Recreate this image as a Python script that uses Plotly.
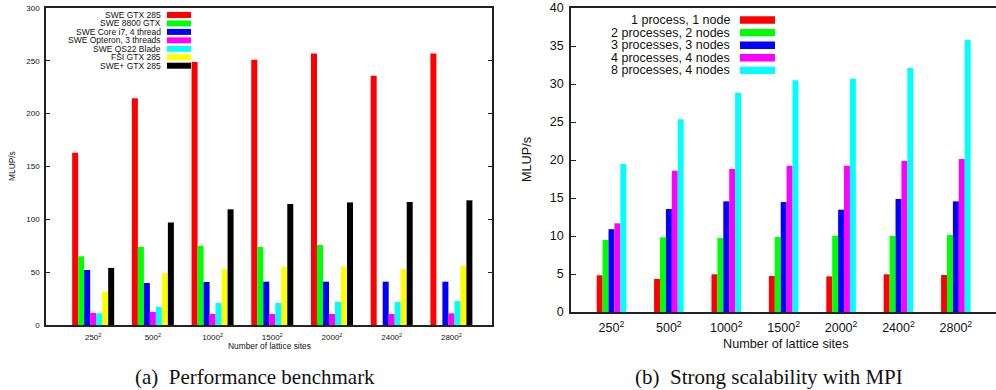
import plotly.graph_objects as go

# ---------------- data ----------------
sizes = ["250", "500", "1000", "1500", "2000", "2400", "2800"]
tick_labels = [s + "<sup>2</sup>" for s in sizes]

# (a) Performance benchmark
a_names = ["SWE GTX 285", "SWE 8800 GTX", "SWE Core i7, 4 thread",
           "SWE Opteron, 3 threads", "SWE QS22 Blade", "FSI GTX 285", "SWE+ GTX 285"]
swe_gtx285   = [163, 214.5, 249, 251, 257, 236, 257]
swe_8800gtx  = [65, 74, 75, 74, 75.7, None, None]
swe_corei7   = [52, 39.7, 40.7, 41, 41, 41, 41]
swe_opteron  = [11.4, 12.3, 10.4, 10.4, 10.4, 10.4, 11]
swe_qs22     = [11, 17, 20.8, 20.8, 21.8, 21.8, 22.7]
fsi_gtx285   = [31.5, 49, 53, 55, 55.2, 53, 56]
sweplus_gtx  = [54, 97, 109.5, 114.5, 116, 116.4, 118]
a_series = [swe_gtx285, swe_8800gtx, swe_corei7, swe_opteron, swe_qs22, fsi_gtx285, sweplus_gtx]

# (b) Strong scalability with MPI
b_names = ["1 process, 1 node", "2 processes, 2 nodes", "3 processes, 3 nodes",
           "4 processes, 4 nodes", "8 processes, 4 nodes"]
p1 = [4.83, 4.34, 4.96, 4.74, 4.69, 4.96, 4.87]
p2 = [9.47, 9.82, 9.74, 9.87, 10.04, 10.0, 10.13]
p3 = [10.9, 13.55, 14.56, 14.47, 13.46, 14.87, 14.56]
p4 = [11.67, 18.6, 18.8, 19.25, 19.25, 19.87, 20.13]
p8 = [19.47, 25.35, 28.86, 30.5, 30.7, 32.1, 35.8]
b_series = [p1, p2, p3, p4, p8]

colors = ["#ff0000", "#00ff00", "#0000ff", "#ff00ff", "#00ffff", "#ffff00", "#000000"]

# ---------------- layout helpers ----------------
W, H = 996, 390
def px(x): return x / W
def py(y): return 1 - y / H

SANS = "Liberation Sans, Arial, Helvetica, sans-serif"
SERIF = "Liberation Serif, Times New Roman, serif"
xs = list(range(len(sizes)))

fig = go.Figure()

bw_a = 0.1005
for i, (name, vals) in enumerate(zip(a_names, a_series)):
    fig.add_trace(go.Bar(x=xs, y=vals, name=name, xaxis="x", yaxis="y",
                         width=bw_a, offset=-3.5 * bw_a + i * bw_a,
                         marker=dict(color=colors[i], line=dict(width=0)),
                         showlegend=False))

bw_b = 0.103
for i, (name, vals) in enumerate(zip(b_names, b_series)):
    fig.add_trace(go.Bar(x=xs, y=vals, name=name, xaxis="x2", yaxis="y2",
                         width=bw_b, offset=-2.5 * bw_b + i * bw_b,
                         marker=dict(color=colors[i], line=dict(width=0)),
                         showlegend=False))

axcol = "#222222"
common_x = dict(showgrid=False, zeroline=False, showline=True, linecolor=axcol, linewidth=1.5,
                tickmode="array", tickvals=xs, ticktext=tick_labels, ticks="", automargin=False)
common_y = dict(showgrid=False, zeroline=False, showline=True, linecolor=axcol, linewidth=1.5,
                ticks="inside", tickcolor=axcol, automargin=False)

fig.update_layout(
    template="none",
    width=W, height=H, margin=dict(l=0, r=0, t=0, b=0, pad=0),
    paper_bgcolor="white", plot_bgcolor="white", barmode="overlay", showlegend=False,
    xaxis=dict(common_x, domain=[px(46), px(492)], range=[-0.79, 6.68], anchor="y",
               mirror=True, tickfont=dict(family=SANS, size=8, color="#111"),
               ticklabelstandoff=4),
    yaxis=dict(common_y, domain=[py(325), py(8)], range=[0, 300], dtick=50, anchor="x",
               mirror="ticks", ticklen=4, tickfont=dict(family=SANS, size=8, color="#111"),
               ticklabelstandoff=3),
    xaxis3=dict(overlaying="x", side="top", anchor="y", range=[-0.79, 6.68], automargin=False,
                tickmode="array", tickvals=xs, ticks="inside", ticklen=4, tickcolor=axcol,
                showticklabels=False, showline=False, showgrid=False, zeroline=False),
    xaxis2=dict(common_x, domain=[px(571), 1.0], range=[-0.705, 6.699], anchor="y2",
                mirror=True, tickfont=dict(family=SANS, size=12.5, color="#111"),
                ticklabelstandoff=3),
    yaxis2=dict(common_y, domain=[py(312), py(8)], range=[0, 40], dtick=5, anchor="x2",
                mirror=False, ticklen=5, tickfont=dict(family=SANS, size=12.5, color="#111"),
                ticklabelstandoff=3),
    xaxis4=dict(overlaying="x2", side="top", anchor="y2", range=[-0.705, 6.699], automargin=False,
                tickmode="array", tickvals=xs, ticks="inside", ticklen=5, tickcolor=axcol,
                showticklabels=False, showline=False, showgrid=False, zeroline=False),
)

def note(text, x, y, size, family=SANS, xanchor="center", angle=0):
    return dict(text=text, x=px(x), y=py(y), xref="paper", yref="paper",
                xanchor=xanchor, yanchor="middle", textangle=angle, showarrow=False,
                font=dict(family=family, size=size, color="#111"))

ann = []
# axis titles
ann.append(note("Number of lattice sites", 269, 346, 8.4))
ann.append(note("MLUP/s", 12, 166, 8.4, angle=-90))
ann.append(note("Number of lattice sites", 786, 344, 12.7))
ann.append(note("MLUP/s", 527, 160, 12.7, angle=-90))
# captions
ann.append(note("(a)  Performance benchmark", 255, 377, 21, family=SERIF))
ann.append(note("(b)  Strong scalability with MPI", 769, 377, 21, family=SERIF))

shapes = []
# legend (a)
for i, name in enumerate(a_names):
    yc = 15 + 8.45 * i
    ann.append(note(name, 163, yc, 8.5, xanchor="right"))
    shapes.append(dict(type="rect", xref="paper", yref="paper", x0=px(167), x1=px(191),
                       y0=py(yc + 3), y1=py(yc - 3), fillcolor=colors[i], line=dict(width=0)))
# legend (b)
for i, name in enumerate(b_names):
    yc = 20 + 12.6 * i
    ann.append(note(name, 732, yc, 12.5, xanchor="right"))
    shapes.append(dict(type="rect", xref="paper", yref="paper", x0=px(740), x1=px(775),
                       y0=py(yc + 3.7), y1=py(yc - 3.7), fillcolor=colors[i], line=dict(width=0)))

fig.update_layout(annotations=ann, shapes=shapes)
# remove the browser's default 8px body margin so the figure sits at the page origin
fig.write_html("out.html", config={"displayModeBar": False},
               post_script="document.body.style.margin='0';document.body.style.overflow='hidden';")
